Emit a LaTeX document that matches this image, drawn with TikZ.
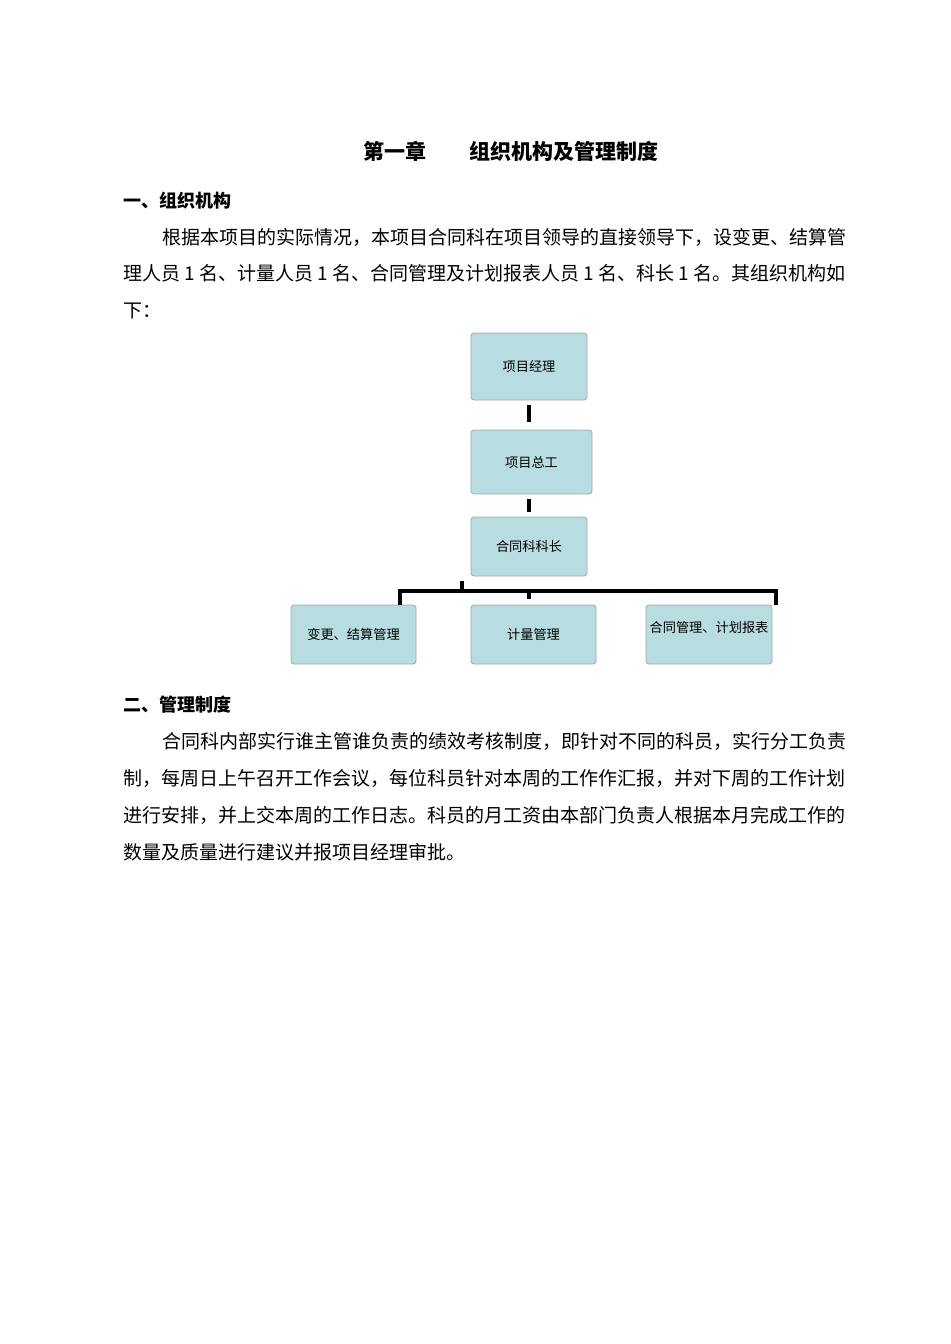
\documentclass[tikz,border=0pt]{standalone}
\usepackage{fontspec}
\setmainfont{Noto Sans CJK SC}
\begin{document}
\begin{tikzpicture}[x=0.5pt,y=-0.5pt,
  txt/.style={anchor=west,inner sep=0pt,font=\fontsize{9.5pt}{11pt}\selectfont},
  hd/.style={anchor=west,inner sep=0pt,font=\fontsize{9pt}{10pt}\selectfont\bfseries},
  box/.style={draw=black!35,fill=boxc,rounded corners=1.5pt,inner sep=0pt,font=\fontsize{6.6pt}{8pt}\selectfont},
  con/.style={line width=1.8pt}]
\definecolor{boxc}{HTML}{B7DDE0}
\useasboundingbox (0,0) rectangle (950,1344);
\node[anchor=center,inner sep=0pt,font=\fontsize{10.5pt}{12pt}\selectfont\bfseries] (title) at (511,151) {第一章\hspace{22pt}组织机构及管理制度};
\node[hd] (h1) at (123,201) {一、组织机构};
\node[txt] (p1) at (162,237) {根据本项目的实际情况，本项目合同科在项目领导的直接领导下，设变更、结算管};
\node[txt] (p2) at (123,273) {理人员 1 名、计量人员 1 名、合同管理及计划报表人员 1 名、科长 1 名。其组织机构如};
\node[txt] (p3) at (123,311) {下：};
\node[box,minimum width=58pt,minimum height=33.5pt] (a) at (529,366.5) {项目经理};
\node[box,minimum width=60.5pt,minimum height=32pt] (b) at (531.5,462) {项目总工};
\node[box,minimum width=58pt,minimum height=29.5pt] (c) at (529,546.5) {合同科科长};
\node[box,minimum width=62.5pt,minimum height=29.5pt] (d) at (353.5,634.5) {变更、结算管理};
\node[box,minimum width=62.5pt,minimum height=29.5pt] (e) at (533.5,634.5) {计量管理};
\node[box,minimum width=63pt,minimum height=29.5pt] (f) at (709,634.5) {};
\node[inner sep=0pt,font=\fontsize{6.6pt}{8pt}\selectfont] (ft) at (709,627) {合同管理、计划报表};
\coordinate (a1) at (529,405); \coordinate (a2) at (529,422);
\coordinate (b1) at (529,499); \coordinate (b2) at (529,512);
\draw[con] (a1) -- (a2);
\draw[con] (b1) -- (b2);
\coordinate (hl) at (400,591); \coordinate (hr) at (776,591);
\coordinate (tk) at (462,581);
\draw[con] (400,605) -- (hl) -- (hr) -- (776,605);
\draw[con] (529,591) -- (529,599);
\draw[con] (tk) -- (462,591);
\node[hd] (h2) at (123,705) {二、管理制度};
\node[txt] (q1) at (162,741) {合同科内部实行谁主管谁负责的绩效考核制度，即针对不同的科员，实行分工负责};
\node[txt] (q2) at (123,778) {制，每周日上午召开工作会议，每位科员针对本周的工作作汇报，并对下周的工作计划};
\node[txt] (q3) at (123,815) {进行安排，并上交本周的工作日志。科员的月工资由本部门负责人根据本月完成工作的};
\node[txt] (q4) at (123,852) {数量及质量进行建议并报项目经理审批。};
\end{tikzpicture}
\end{document}
